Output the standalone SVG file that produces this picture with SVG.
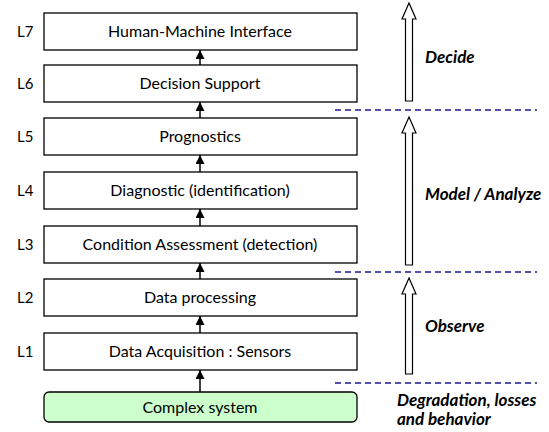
<svg xmlns="http://www.w3.org/2000/svg" width="549" height="432" viewBox="0 0 549 432">
<defs>
<style>
.box{fill:#ffffff;stroke:#000;stroke-width:1.3}
.sys{fill:#ccffcc;stroke:#000;stroke-width:1.3}
.t{font-family:Lato,"Open Sans",sans-serif;font-size:16px;fill:#000;text-anchor:middle}
.lv{font-family:Lato,"Open Sans",sans-serif;font-size:15px;fill:#000}
.ph{font-family:Lato,"Open Sans",sans-serif;font-size:17px;font-weight:bold;font-style:italic;fill:#000}
.conn{stroke:#000;stroke-width:1.5;fill:none}
.dash{stroke:#1a1a8c;stroke-width:1.3;stroke-dasharray:6,4;fill:none}
.big{fill:#fff;stroke:#000;stroke-width:1.2}
</style>
<marker id="ah" viewBox="0 0 10 10" refX="10" refY="5" markerWidth="6" markerHeight="6" orient="auto" markerUnits="strokeWidth">
<path d="M0,0 L10,5 L0,10 z" fill="#000"/>
</marker>
</defs>

<g id="connectors">
<line class="conn" x1="200" y1="392" x2="200" y2="370" marker-end="url(#ah)"/>
<line class="conn" x1="200" y1="333" x2="200" y2="316" marker-end="url(#ah)"/>
<line class="conn" x1="200" y1="279" x2="200" y2="263" marker-end="url(#ah)"/>
<line class="conn" x1="200" y1="226" x2="200" y2="209" marker-end="url(#ah)"/>
<line class="conn" x1="200" y1="172" x2="200" y2="155" marker-end="url(#ah)"/>
<line class="conn" x1="200" y1="118" x2="200" y2="102" marker-end="url(#ah)"/>
<line class="conn" x1="200" y1="65" x2="200" y2="50" marker-end="url(#ah)"/>
</g>

<g id="sys"><rect class="sys" x="44" y="392" width="313" height="30" rx="5"/><text class="t" x="200" y="412.5">Complex system</text></g>
<g id="L1"><rect class="box" x="44" y="333" width="313" height="37"/><text class="t" x="200" y="357">Data Acquisition : Sensors</text><text class="lv" x="17" y="357">L1</text></g>
<g id="L2"><rect class="box" x="44" y="279" width="313" height="37"/><text class="t" x="200" y="303">Data processing</text><text class="lv" x="17" y="303">L2</text></g>
<g id="L3"><rect class="box" x="44" y="226" width="313" height="37"/><text class="t" x="200" y="250">Condition Assessment (detection)</text><text class="lv" x="17" y="250">L3</text></g>
<g id="L4"><rect class="box" x="44" y="172" width="313" height="37"/><text class="t" x="200" y="196">Diagnostic (identification)</text><text class="lv" x="17" y="196">L4</text></g>
<g id="L5"><rect class="box" x="44" y="118" width="313" height="37"/><text class="t" x="200" y="142">Prognostics</text><text class="lv" x="17" y="142">L5</text></g>
<g id="L6"><rect class="box" x="44" y="65" width="313" height="37"/><text class="t" x="200" y="89">Decision Support</text><text class="lv" x="17" y="89">L6</text></g>
<g id="L7"><rect class="box" x="44" y="13" width="313" height="37"/><text class="t" x="200" y="37">Human-Machine Interface</text><text class="lv" x="17" y="37">L7</text></g>

<g id="dividers">
<line class="dash" x1="335" y1="110" x2="537" y2="110"/>
<line class="dash" x1="335" y1="272" x2="537" y2="272"/>
<line class="dash" x1="335" y1="383" x2="537" y2="383"/>
</g>

<g id="phases">
<path class="big" d="M409,3 L416,19 L412.5,19 L412.5,101 L405.5,101 L405.5,19 L402,19 Z"/>
<path class="big" d="M409,117 L416,133 L412.5,133 L412.5,265 L405.5,265 L405.5,133 L402,133 Z"/>
<path class="big" d="M409,278 L416,294 L412.5,294 L412.5,374 L405.5,374 L405.5,294 L402,294 Z"/>
<text class="ph" x="425" y="63">Decide</text>
<text class="ph" x="425" y="200">Model / Analyze</text>
<text class="ph" x="425" y="332">Observe</text>
<text class="ph" x="397" y="406">Degradation, losses</text>
<text class="ph" x="397" y="425">and behavior</text>
</g>
</svg>
